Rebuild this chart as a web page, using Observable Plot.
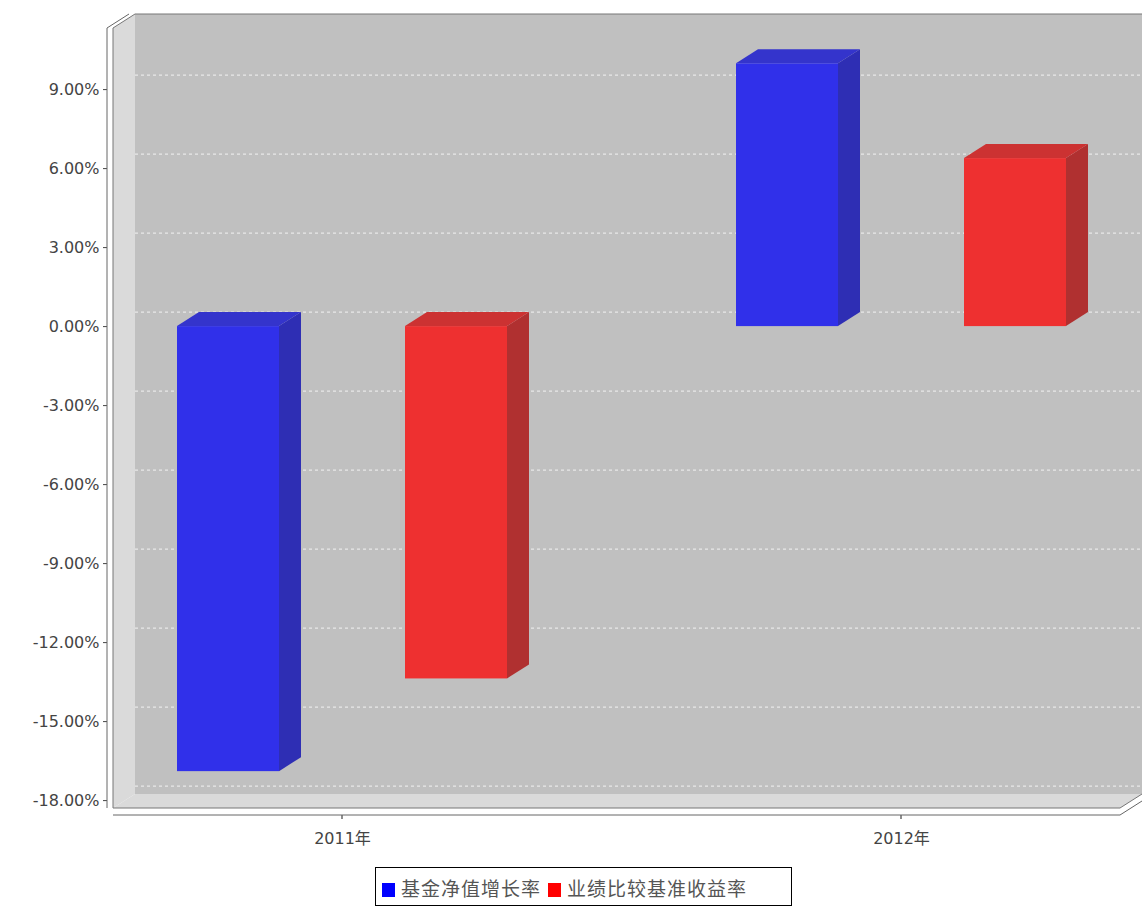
<!DOCTYPE html>
<html><head><meta charset="utf-8">
<script src="https://cdn.jsdelivr.net/npm/d3@7"></script>
<script src="https://cdn.jsdelivr.net/npm/@observablehq/plot@0.6"></script>
<style>
body{margin:0;background:#fff;font-family:"DejaVu Sans","Noto Sans CJK SC",sans-serif}
#legend{position:absolute;left:375px;top:867px;width:403px;border:1.5px solid #000;padding:6px 6px 4px 6px;font-size:19px;color:#555;white-space:nowrap;letter-spacing:1px}
#legend span.k{display:inline-block;width:13px;height:14px;margin-right:6px;vertical-align:-1px}
</style></head>
<body>
<div id="chart"></div>
<div id="legend"><span class="k" style="background:#0000ff"></span>基金净值增长率 <span class="k" style="background:#ff0000"></span>业绩比较基准收益率</div>
<script>
var years = ["2011年", "2012年"]
var series = ["基金净值增长率", "业绩比较基准收益率"]
var fund = [-16.9, 9.98]
var bench = [-13.38, 6.38]
var yTicks = [-18, -15, -12, -9, -6, -3, 0, 3, 6, 9]

var data = []
years.forEach((y, i) => {
  data.push({year: y, s: 0, v: fund[i]})
  data.push({year: y, s: 1, v: bench[i]})
})

var DX = 22, DY = 14
var front = ["#3030ea", "#ee3030"], side = ["#2e2eb4", "#b03030"], top_ = ["#3434cc", "#cc3232"]

function scene(index, scales, values, dim) {
  var x = scales.x, y = scales.y
  var L = dim.marginLeft, R = dim.width - dim.marginRight
  var T = dim.marginTop, B = dim.height - dim.marginBottom
  var g = d3.create("svg:g")
  var pts = a => a.map(p => p.join(",")).join(" ")
  // back wall, left wall, floor
  g.append("polygon").attr("points", pts([[L + DX, T - DY], [R + DX, T - DY], [R + DX, B - DY], [L + DX, B - DY]])).attr("fill", "#c0c0c0")
  g.append("polygon").attr("points", pts([[L, T], [L + DX, T - DY], [L + DX, B - DY], [L, B]])).attr("fill", "#dadada")
  g.append("polygon").attr("points", pts([[L, B], [L + DX, B - DY], [R + DX, B - DY], [R, B]])).attr("fill", "#dadada")
  g.append("polyline").attr("points", pts([[L, B], [L, T], [L + DX, T - DY], [R + DX, T - DY]])).attr("fill", "none").attr("stroke", "#777")
  g.append("polyline").attr("points", pts([[L, B], [R, B], [R + DX, B - DY]])).attr("fill", "none").attr("stroke", "#777")
  yTicks.forEach(t => {
    g.append("line").attr("x1", L + DX).attr("x2", R + DX).attr("y1", y(t) - DY).attr("y2", y(t) - DY)
      .attr("stroke", "#fff").attr("stroke-dasharray", "3,3").attr("stroke-opacity", 0.8)
  })
  // axes
  g.append("polyline").attr("points", pts([[L - 6, B], [L - 6, T], [L + DX - 6, T - DY]])).attr("fill", "none").attr("stroke", "#666")
  g.append("polyline").attr("points", pts([[L, B + 7], [R, B + 7], [R + DX, B + 7 - DY]])).attr("fill", "none").attr("stroke", "#666")
  // bars
  data.forEach(d => {
    var c = x(d.year) + 5
    g.append("line").attr("x1", c).attr("x2", c).attr("y1", B + 7).attr("y2", B + 11).attr("stroke", "#666")
    var x0 = d.s === 0 ? c - 165 : c + 63, x1 = x0 + 102
    var yt = y(Math.max(0, d.v)), yb = y(Math.min(0, d.v))
    g.append("polygon").attr("points", pts([[x1, yt], [x1 + DX, yt - DY], [x1 + DX, yb - DY], [x1, yb]])).attr("fill", side[d.s])
    g.append("polygon").attr("points", pts([[x0, yt], [x0 + DX, yt - DY], [x1 + DX, yt - DY], [x1, yt]])).attr("fill", top_[d.s])
    g.append("rect").attr("x", x0).attr("y", yt).attr("width", x1 - x0).attr("height", yb - yt).attr("fill", front[d.s])
  })
  return g.node()
}

var chart = Plot.plot({
  width: 1142,
  height: 860,
  marginLeft: 113,
  marginRight: 22,
  marginTop: 28,
  marginBottom: 52,
  style: {fontSize: "16px", fontFamily: "DejaVu Sans, Noto Sans CJK SC, sans-serif", color: "#444", background: "transparent"},
  x: {type: "point", domain: years, padding: 0.4, label: null, tickSize: 0, tickPadding: 24},
  y: {domain: [-18.3, 11.32], ticks: yTicks, tickFormat: d => d.toFixed(2) + "%", label: null, tickSize: 4, tickPadding: 4},
  marks: [scene]
})
d3.select("#chart").append(() => chart)
function shift(sel, dx) {
  d3.select(chart).selectAll(sel).attr("transform", function() {
    return (this.getAttribute("transform") || "") + " translate(" + dx + ",0)"
  })
}
shift("[aria-label='y-axis tick']", -6)
shift("[aria-label='y-axis tick label']", -6)
shift("[aria-label='x-axis tick label']", 5)
</script>
</body></html>
